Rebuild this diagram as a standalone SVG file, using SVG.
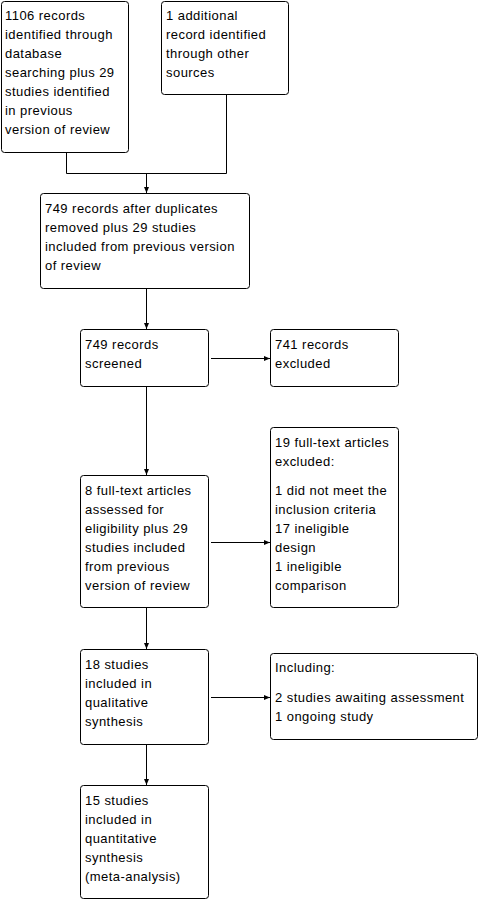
<svg xmlns="http://www.w3.org/2000/svg" width="481" height="900" viewBox="0 0 481 900">
<style>
rect.box{fill:#fff;stroke:#000;stroke-width:1}
text{font-family:"Liberation Sans",Arial,sans-serif;font-size:13px;letter-spacing:0.45px;fill:#000}
.c{fill:none;stroke:#000;stroke-width:1}
</style>
<defs>
<marker id="ah" viewBox="0 0 6 6" refX="6" refY="3" markerWidth="6" markerHeight="6" markerUnits="userSpaceOnUse" orient="auto">
<path d="M0,0.5 L6,3 L0,5.5 Z" fill="#000"/>
</marker>
</defs>
<rect width="481" height="900" fill="#fff"/>
<g id="connectors">
<path class="c" d="M66.5,152.5 V173.5 H226.5 V94.5"/>
<path class="c" d="M146.5,173.5 V193" marker-end="url(#ah)"/>
<path class="c" d="M146.5,288.5 V329" marker-end="url(#ah)"/>
<path class="c" d="M146.5,386.5 V475" marker-end="url(#ah)"/>
<path class="c" d="M146.5,607.5 V649" marker-end="url(#ah)"/>
<path class="c" d="M146.5,744.5 V785" marker-end="url(#ah)"/>
<path class="c" d="M211,358.5 H270" marker-end="url(#ah)"/>
<path class="c" d="M211,542.5 H270" marker-end="url(#ah)"/>
<path class="c" d="M211,697.5 H270" marker-end="url(#ah)"/>
</g>
<g id="n1">
<rect class="box" x="1.5" y="1.5" width="127" height="151" rx="3"/>
<text x="5" y="20">1106 records</text>
<text x="5" y="39">identified through</text>
<text x="5" y="58">database</text>
<text x="5" y="77">searching plus 29</text>
<text x="5" y="96">studies identified</text>
<text x="5" y="115">in previous</text>
<text x="5" y="134">version of review</text>
</g>
<g id="n2">
<rect class="box" x="161.5" y="1.5" width="127" height="93" rx="3"/>
<text x="166" y="20">1 additional</text>
<text x="166" y="39">record identified</text>
<text x="166" y="58">through other</text>
<text x="166" y="77">sources</text>
</g>
<g id="n3">
<rect class="box" x="40.5" y="193.5" width="209" height="95" rx="3"/>
<text x="45" y="213">749 records after duplicates</text>
<text x="45" y="232">removed plus 29 studies</text>
<text x="45" y="251">included from previous version</text>
<text x="45" y="270">of review</text>
</g>
<g id="n4">
<rect class="box" x="80.5" y="329.5" width="128" height="57" rx="3"/>
<text x="85" y="349">749 records</text>
<text x="85" y="368">screened</text>
</g>
<g id="n5">
<rect class="box" x="270.5" y="329.5" width="128" height="57" rx="3"/>
<text x="275" y="349">741 records</text>
<text x="275" y="368">excluded</text>
</g>
<g id="n6">
<rect class="box" x="80.5" y="475.5" width="128" height="132" rx="3"/>
<text x="85" y="495">8 full-text articles</text>
<text x="85" y="514">assessed for</text>
<text x="85" y="533">eligibility plus 29</text>
<text x="85" y="552">studies included</text>
<text x="85" y="571">from previous</text>
<text x="85" y="590">version of review</text>
</g>
<g id="n7">
<rect class="box" x="270.5" y="427.5" width="128" height="180" rx="3"/>
<text x="275" y="447">19 full-text articles</text>
<text x="275" y="466">excluded:</text>
<text x="275" y="495">1 did not meet the</text>
<text x="275" y="514">inclusion criteria</text>
<text x="275" y="533">17 ineligible</text>
<text x="275" y="552">design</text>
<text x="275" y="571">1 ineligible</text>
<text x="275" y="590">comparison</text>
</g>
<g id="n8">
<rect class="box" x="80.5" y="649.5" width="128" height="95" rx="3"/>
<text x="85" y="669">18 studies</text>
<text x="85" y="688">included in</text>
<text x="85" y="707">qualitative</text>
<text x="85" y="726">synthesis</text>
</g>
<g id="n9">
<rect class="box" x="270.5" y="653.5" width="207" height="86" rx="3"/>
<text x="275" y="672">Including:</text>
<text x="275" y="702">2 studies awaiting assessment</text>
<text x="275" y="721">1 ongoing study</text>
</g>
<g id="n10">
<rect class="box" x="80.5" y="785.5" width="128" height="113" rx="3"/>
<text x="85" y="805">15 studies</text>
<text x="85" y="824">included in</text>
<text x="85" y="843">quantitative</text>
<text x="85" y="862">synthesis</text>
<text x="85" y="881">(meta-analysis)</text>
</g>
</svg>
